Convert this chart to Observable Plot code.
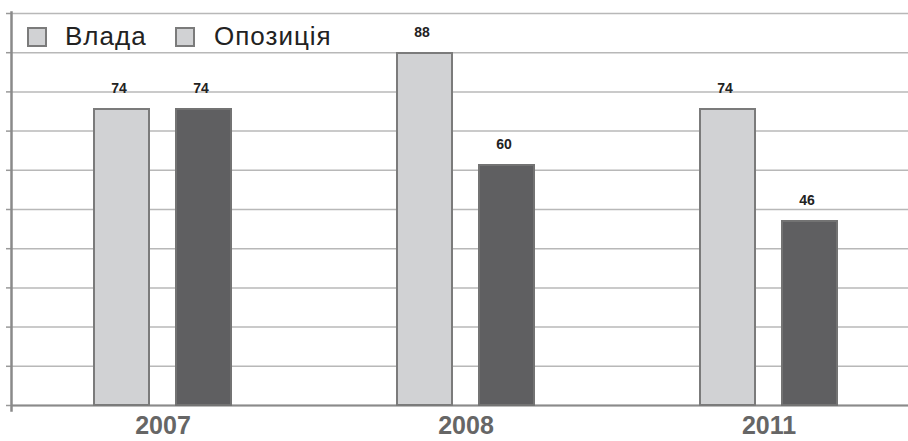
<!DOCTYPE html>
<html>
<head>
<meta charset="utf-8">
<script src="https://cdn.jsdelivr.net/npm/d3@7"></script>
<script src="https://cdn.jsdelivr.net/npm/@observablehq/plot@0.6"></script>
<style>
  html, body { margin: 0; padding: 0; background: #fff; }
  #wrap { position: relative; width: 908px; height: 441px; overflow: hidden; font-family: "Liberation Sans", Arial, sans-serif; }
  .sw { position: absolute; width: 20px; height: 20px; box-sizing: border-box; border: 2px solid #7b7b7b; background: #d1d2d4; top: 27px; }
  .lt { position: absolute; font-size: 26px; line-height: 26px; letter-spacing: 1px; color: #222; top: 23px; white-space: nowrap; }
</style>
</head>
<body>
<div id="wrap"></div>
<script>
const years = ["2007", "2008", "2011"];
const series = ["Влада", "Опозиція"];
const vlada = [74, 88, 74];
const opozytsia = [74, 60, 46];
const gridValues = [0, 9.8, 19.6, 29.4, 39.2, 49, 58.8, 68.6, 78.4, 88.2, 98];
const fills = ["#d1d2d4", "#5f5f61"];
const strokes = ["#7b7b7b", "#737373"];

const rows = years.flatMap((yr, i) => [
  {year: yr, series: series[0], value: vlada[i]},
  {year: yr, series: series[1], value: opozytsia[i]}
]);

const chart = Plot.plot({
  width: 908,
  height: 441,
  marginTop: 13,
  marginBottom: 36,
  marginLeft: 11,
  marginRight: -12,
  style: {fontFamily: "'Liberation Sans', Arial, sans-serif", background: "#fff"},
  fx: {domain: years, padding: 0, label: null},
  x: {domain: series, paddingInner: 0.33, paddingOuter: 1.01, axis: null},
  y: {domain: [0, 98], axis: null},
  marks: [
    Plot.gridY(gridValues, {stroke: "#b8b8b8", strokeOpacity: 1, strokeWidth: 1.5}),
    Plot.axisY(gridValues, {tickSize: 5, tickFormat: () => "", stroke: "#999", strokeWidth: 1.5, label: null}),
    Plot.frame({anchor: "left", facetAnchor: "left", stroke: "#8a8a8a", strokeWidth: 2.5, insetBottom: -5, insetTop: -1}),
    Plot.ruleY([0], {stroke: "#8a8a8a", strokeWidth: 2}),
    ...series.map((s, k) => Plot.barY(rows.filter(d => d.series === s), {
      fx: "year", x: "series", y: "value",
      fill: fills[k], stroke: strokes[k], strokeWidth: 2
    })),
    Plot.text(rows, {
      fx: "year", x: "series", y: "value", text: d => String(d.value),
      dy: -21, dx: -3, fontSize: 14, fontWeight: "bold", fill: "#222"
    }),
    Plot.axisFx({anchor: "bottom", tickSize: 0, tickPadding: 11, fontSize: 25, fontWeight: "bold", fill: "#666", label: null})
  ]
});

const wrap = document.getElementById("wrap");
wrap.appendChild(chart);

// Legend overlaid inside the plot area (both swatches light, as in the original)
const legendItems = [
  {label: series[0], sw: 27, tx: 65},
  {label: series[1], sw: 175, tx: 214}
];
for (const it of legendItems) {
  const sw = document.createElement("div");
  sw.className = "sw";
  sw.style.left = it.sw + "px";
  wrap.appendChild(sw);
  const t = document.createElement("div");
  t.className = "lt";
  t.style.left = it.tx + "px";
  t.textContent = it.label;
  wrap.appendChild(t);
}
</script>
</body>
</html>
